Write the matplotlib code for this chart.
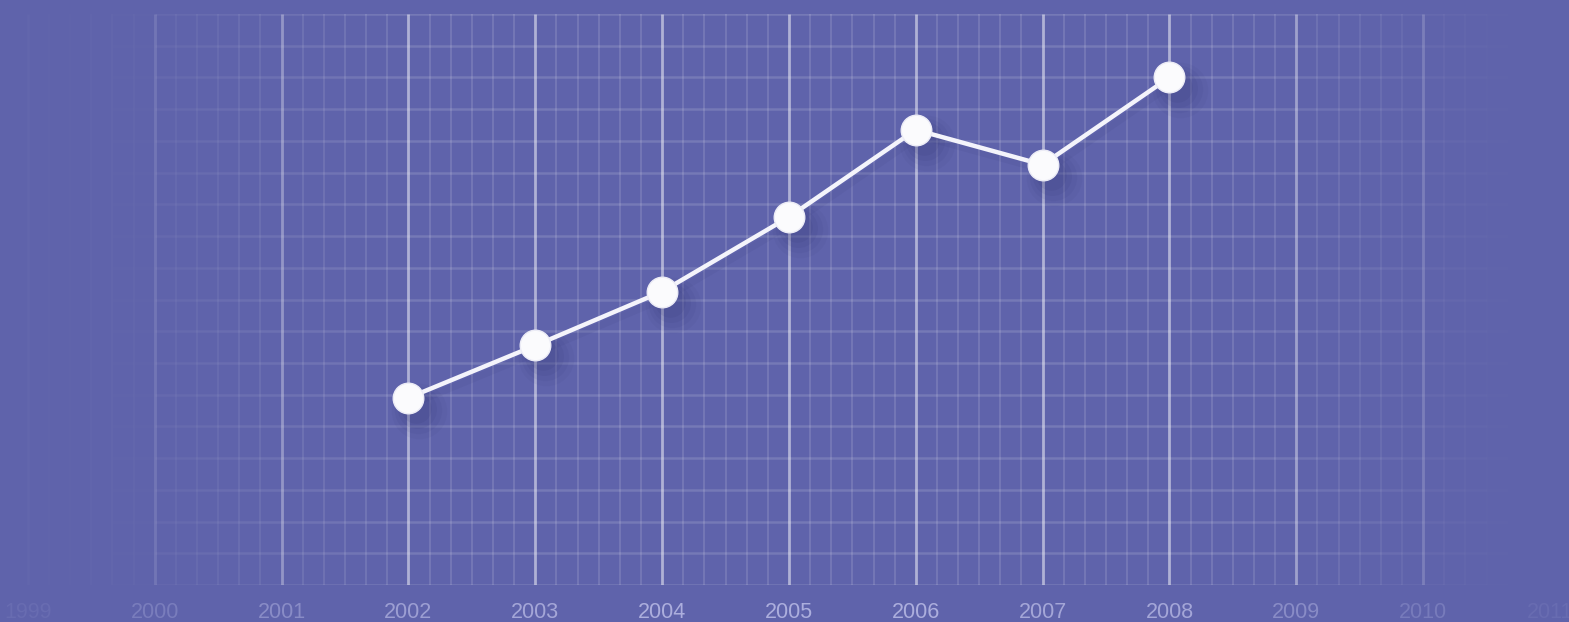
import numpy as np
import matplotlib
matplotlib.use("Agg")
import matplotlib.pyplot as plt
import matplotlib.transforms as mtransforms
from matplotlib.collections import LineCollection

# data
years = [2002, 2003, 2004, 2005, 2006, 2007, 2008]
values = [5.9, 7.55, 9.25, 11.6, 14.35, 13.25, 16.0]
tick_years = list(range(1999, 2012))
label_alpha = [0.12, 0.35, 0.55, 0.8, 0.9, 1.0, 1.0, 1.0, 0.9, 0.9, 0.55, 0.32, 0.12]

bg = "#5f63ab"
fig = plt.figure(figsize=(15.69, 6.22), dpi=100)
fig.patch.set_facecolor(bg)
ax = fig.add_axes([0, 37 / 622, 1, (585 - 14) / 622])
ax.set_facecolor(bg)
ax.set_xlim(1998.78, 2011.15)
ax.set_ylim(0, 18)
for s in ax.spines.values():
    s.set_visible(False)


def fade(x):
    # grid fades out towards left and right edges
    return np.interp(x, [1998.8, 1999.9, 2001.0, 2002.0, 2008.5, 2009.5, 2010.2, 2010.7],
                     [0.0, 0.2, 0.65, 1.0, 1.0, 0.6, 0.25, 0.0])


# vertical minor lines
xs = np.arange(1998.8334, 2011.0, 1 / 6)
segs, cols = [], []
for x in xs:
    if abs(x - round(x)) < 1e-3:
        continue
    segs.append([(x, 0), (x, 18)])
    cols.append((1, 1, 1, 0.15 * fade(x)))
ax.add_collection(LineCollection(segs, colors=cols, linewidths=1.2, zorder=1))

# horizontal lines, in pieces so they fade
segs, cols = [], []
for y in range(0, 19):
    for x0 in xs[:-1]:
        x1 = x0 + 1 / 6
        f = fade((x0 + x1) / 2)
        if x0 < 2000:
            f *= 0.25
        segs.append([(x0, y), (x1, y)])
        cols.append((1, 1, 1, 0.14 * f))
ax.add_collection(LineCollection(segs, colors=cols, linewidths=1.8, zorder=1))

# major year lines
segs, cols = [], []
for x in tick_years:
    segs.append([(x, 0), (x, 18)])
    cols.append((1, 1, 1, 0.5 * fade(x)))
ax.add_collection(LineCollection(segs, colors=cols, linewidths=2.0, zorder=1.5))

# shadow
for dx, dy, ms, a in [(11, -13, 40, 0.05), (10, -12, 34, 0.07), (9, -11, 28, 0.09),
                      (8, -10, 22, 0.1)]:
    tr = mtransforms.offset_copy(ax.transData, fig=fig, x=dx, y=dy, units="dots")
    ax.plot(years, values, "o", ms=ms, color="#2e3170", alpha=a, mec="none",
            transform=tr, zorder=2)
tr = mtransforms.offset_copy(ax.transData, fig=fig, x=4, y=-6, units="dots")
ax.plot(years, values, "-", lw=5, color="#2e3170", alpha=0.08, transform=tr, zorder=2)

ax.plot(years, values, "-", lw=3.2, color="#f4f4fb", zorder=3,
        solid_capstyle="round")
ax.plot(years, values, "o", ms=22, color="#fbfbfd", mec="#ececf6", mew=1, zorder=4)

ax.set_xticks(tick_years)
ax.set_xticklabels([str(y) for y in tick_years], fontsize=15.5,
                   family=["Liberation Sans", "DejaVu Sans"], color="#acaedd")
for lab, a in zip(ax.get_xticklabels(), label_alpha):
    lab.set_alpha(a)
ax.tick_params(axis="x", length=0, pad=12)
ax.set_yticks([])

fig.savefig("out.png", dpi=100, facecolor=bg)
